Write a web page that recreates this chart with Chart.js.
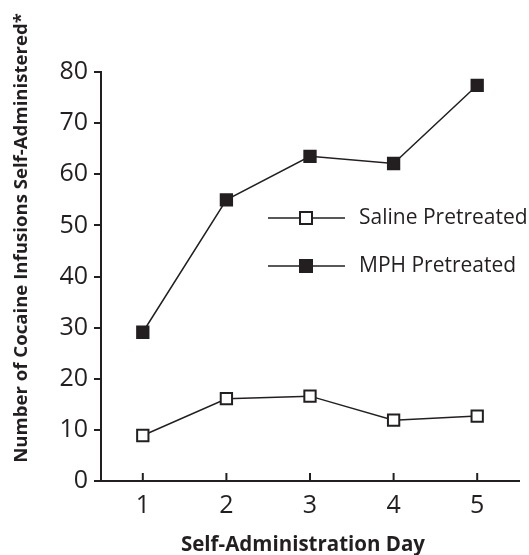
<!DOCTYPE html>
<html>
<head>
<meta charset="utf-8">
<script src="https://cdn.jsdelivr.net/npm/chart.js@4.4.0/dist/chart.umd.min.js"></script>
<style>
  html, body { margin: 0; padding: 0; background: #fff; }
  #wrap { width: 529px; height: 555px; }
</style>
</head>
<body>
<div id="wrap"><canvas id="myChart"></canvas></div>
<script>
    const days = [1, 2, 3, 4, 5]
    const salineValues = [8.9, 16.1, 16.6, 11.9, 12.7]
    const mphValues = [29.1, 55.0, 63.5, 62.1, 77.4]
    const yTicks = [0, 10, 20, 30, 40, 50, 60, 70, 80]
    const seriesNames = ["Saline Pretreated", "MPH Pretreated"]
    const yTitle = "Number of Cocaine Infusions Self-Administered*"
    const xTitle = "Self-Administration Day"

    const ink = "#231f20"
    const fontName = "'Open Sans', 'Noto Sans', sans-serif"

    function toPoints(vals) {
        return days.map((d, i) => ({ x: d, y: vals[i] }))
    }

    // x ticks point up into the plot, so they are drawn by hand
    const innerTicks = {
        id: 'innerTicks',
        afterDraw(chart) {
            const ctx = chart.ctx
            const xs = chart.scales.x
            const bottom = chart.chartArea.bottom
            ctx.save()
            ctx.strokeStyle = ink
            ctx.lineWidth = 2
            days.forEach(d => {
                const px = xs.getPixelForValue(d)
                ctx.beginPath()
                ctx.moveTo(px, bottom)
                ctx.lineTo(px, bottom - 8)
                ctx.stroke()
            })
            ctx.restore()
        }
    }

    // axis titles are a bit off centre in the original, so draw them here
    const axisTitles = {
        id: 'axisTitles',
        afterDraw(chart) {
            const ctx = chart.ctx
            ctx.save()
            ctx.fillStyle = ink
            ctx.textAlign = "center"
            ctx.textBaseline = "middle"
            ctx.font = "bold 20.5px " + fontName
            ctx.fillText(xTitle, 303, 545)
            ctx.translate(22, 238)
            ctx.rotate(-Math.PI / 2)
            ctx.font = "bold 18.6px " + fontName
            ctx.fillText(yTitle, 0, 0)
            ctx.restore()
        }
    }

    // legend sits inside the plot on the right
    const insideLegend = {
        id: 'insideLegend',
        afterDraw(chart) {
            const ctx = chart.ctx
            const rows = [218, 266]
            ctx.save()
            chart.data.datasets.forEach((ds, i) => {
                const y = rows[i]
                ctx.strokeStyle = ink
                ctx.lineWidth = 1.5
                ctx.beginPath()
                ctx.moveTo(268, y)
                ctx.lineTo(345, y)
                ctx.stroke()
                ctx.fillStyle = ds.pointBackgroundColor
                ctx.lineWidth = 2
                ctx.fillRect(300, y - 6, 12, 12)
                ctx.strokeRect(300, y - 6, 12, 12)
                ctx.fillStyle = ink
                ctx.font = "21px " + fontName
                ctx.textBaseline = "middle"
                ctx.fillText(ds.label, 359, y)
            })
            ctx.restore()
        }
    }

    const ctx = document.getElementById("myChart")
    new Chart(ctx, {
        type: 'line',
        data: {
            datasets: [{
                label: seriesNames[0],
                data: toPoints(salineValues),
                borderColor: ink,
                borderWidth: 1.5,
                pointStyle: 'rect',
                pointRadius: 8,
                pointBorderWidth: 2,
                pointBorderColor: ink,
                pointBackgroundColor: "#ffffff"
            }, {
                label: seriesNames[1],
                data: toPoints(mphValues),
                borderColor: ink,
                borderWidth: 1.5,
                pointStyle: 'rect',
                pointRadius: 8,
                pointBorderWidth: 2,
                pointBorderColor: ink,
                pointBackgroundColor: ink
            }]
        },
        options: {
            responsive: true,
            maintainAspectRatio: false,
            animation: false,
            layout: { padding: { top: 72, right: 9, left: 0, bottom: 0 } },
            plugins: {
                legend: { display: false },
                tooltip: { enabled: false }
            },
            scales: {
                x: {
                    type: 'linear',
                    min: 0.5,
                    max: 5.5,
                    afterBuildTicks: s => { s.ticks = days.map(v => ({ value: v })) },
                    afterFit: s => { s.height = 74 },
                    border: { color: ink, width: 2 },
                    grid: { display: false },
                    ticks: {
                        color: ink,
                        padding: 4,
                        font: { family: fontName, size: 25, lineHeight: 1 }
                    },
                    title: { display: false }
                },
                y: {
                    min: 0,
                    max: 80,
                    afterBuildTicks: s => { s.ticks = yTicks.map(v => ({ value: v })) },
                    afterFit: s => { s.width = 101 },
                    border: { color: ink, width: 2 },
                    grid: {
                        drawOnChartArea: false,
                        drawTicks: true,
                        tickLength: 7,
                        color: ink,
                        lineWidth: 2
                    },
                    ticks: {
                        color: ink,
                        padding: 6,
                        font: { family: fontName, size: 25 }
                    },
                    title: { display: false }
                }
            }
        },
        plugins: [innerTicks, axisTitles, insideLegend]
    })
</script>
</body>
</html>
